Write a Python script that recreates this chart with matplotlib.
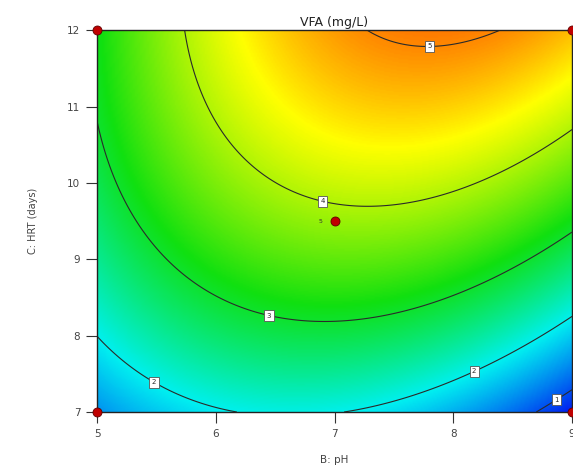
import numpy as np
import matplotlib
matplotlib.use('Agg')
import matplotlib.pyplot as plt
from matplotlib.colors import LinearSegmentedColormap

# points: level, pH, HRT
c_level = [5, 5, 5,
           4, 4, 4, 4, 4, 4, 4, 4,
           3, 3, 3, 3, 3, 3, 3, 3, 3,
           2, 2, 2, 2, 2, 2, 2, 2,
           1, 1, 1]
c_ph = [7.24, 7.80, 8.37,
        5.73, 5.87, 6.12, 6.52, 6.90, 7.27, 8.08, 9.00,
        5.00, 5.22, 5.51, 5.93, 6.45, 6.90, 7.80, 8.50, 9.00,
        5.00, 5.49, 6.10, 7.19, 7.53, 8.17, 8.65, 9.00,
        8.71, 8.86, 9.00]
c_hrt = [12.0, 11.77, 12.0,
         12.0, 11.26, 10.60, 9.95, 9.75, 9.65, 10.04, 10.70,
         10.87, 9.78, 9.12, 8.60, 8.27, 8.15, 8.43, 8.82, 9.35,
         7.98, 7.42, 7.00, 7.00, 7.20, 7.55, 7.94, 8.25,
         7.00, 7.18, 7.26]

# design points
pt_ph = [5, 5, 9, 9, 7]
pt_hrt = [7, 12, 12, 7, 9.5]

levels = [1, 2, 3, 4, 5]
label_pos = [(8.86, 7.18), (5.49, 7.42), (8.17, 7.55), (6.45, 8.27), (6.90, 9.75), (7.80, 11.77)]

# quadratic response surface fitted to the read contour points
x = np.array(c_ph); y = np.array(c_hrt)
A = np.column_stack([np.ones_like(x), x, y, x*y, x**2, y**2])
coef = np.linalg.lstsq(A, np.array(c_level, float), rcond=None)[0]

def vfa(b, c):
    return coef[0] + coef[1]*b + coef[2]*c + coef[3]*b*c + coef[4]*b**2 + coef[5]*c**2

bg = np.linspace(5, 9, 300)
cg = np.linspace(7, 12, 300)
B, C = np.meshgrid(bg, cg)
Z = vfa(B, C)

cmap = LinearSegmentedColormap.from_list('de', [(0, '#0020f0'), (0.26, '#00f0f0'), (0.5, '#10e010'),
                                                (0.76, '#ffff00'), (1, '#ff1000')])

fig = plt.figure(figsize=(5.73, 4.66), dpi=100)
ax = fig.add_axes([0.1693, 0.1159, 0.829, 0.8187])

ax.imshow(Z, extent=[5, 9, 7, 12], origin='lower', aspect='auto', cmap=cmap,
          vmin=0.7, vmax=5.6, interpolation='bilinear')
cs = ax.contour(B, C, Z, levels=levels, colors='#2a2a2a', linewidths=0.8)
txts = ax.clabel(cs, levels, fmt='%d', fontsize=5, inline=True, inline_spacing=1, manual=label_pos)
for t in txts:
    t.set_rotation(0)
    t.set_bbox(dict(boxstyle='square,pad=0.35', fc='white', ec='#555555', lw=0.6))

ax.scatter(pt_ph, pt_hrt, s=42, c='#c00000', edgecolors='#600000', linewidths=0.6, zorder=5, clip_on=False)
ax.text(6.9, 9.5, '5', fontsize=4.5, ha='right', va='center', color='#333333')

ax.set_xlim(5, 9)
ax.set_ylim(7, 12)
ax.set_xticks([5, 6, 7, 8, 9])
ax.set_yticks([7, 8, 9, 10, 11, 12])
ax.tick_params(direction='out', length=8, width=0.8, color='#333333', labelsize=7.5, labelcolor='#444444', pad=4)
for s in ax.spines.values():
    s.set_linewidth(1.0)
    s.set_color('#222222')

ax.set_title('VFA (mg/L)', fontsize=9, color='#222222', pad=3)
ax.set_xlabel('B: pH', fontsize=7.5, color='#444444', labelpad=12)
ax.set_ylabel('C: HRT (days)', fontsize=7, color='#444444', labelpad=21)

fig.savefig('out.png', dpi=100)
